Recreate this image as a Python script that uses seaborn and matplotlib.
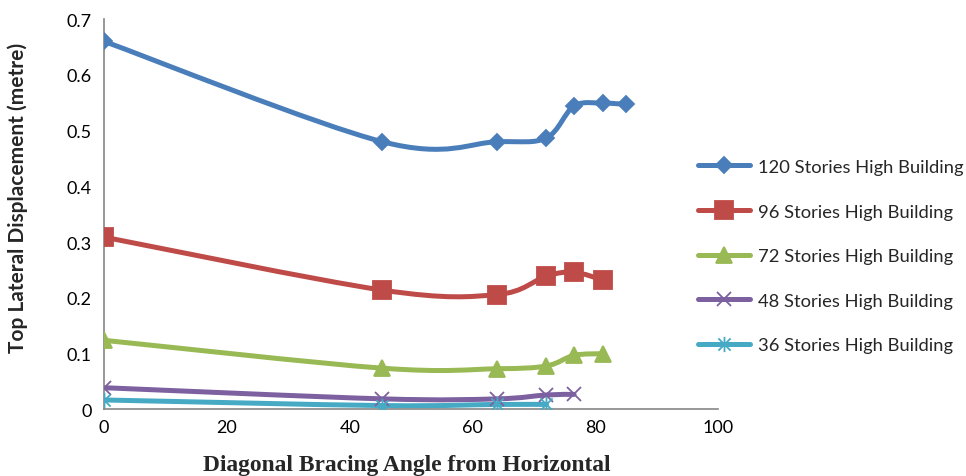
import numpy as np
import matplotlib
matplotlib.use("Agg")
import matplotlib.pyplot as plt
import seaborn as sns
from matplotlib.path import Path
from matplotlib.patches import PathPatch
from matplotlib.lines import Line2D

# === DATA ===
angles_120 = [0, 45.3, 64.0, 72.0, 76.5, 81.2, 85.0]
disp_120 = [0.660, 0.480, 0.480, 0.487, 0.544, 0.549, 0.547]

angles_96 = [0, 45.3, 64.0, 72.0, 76.5, 81.2]
disp_96 = [0.309, 0.214, 0.206, 0.239, 0.246, 0.232]

angles_72 = [0, 45.3, 64.0, 72.0, 76.5, 81.2]
disp_72 = [0.124, 0.074, 0.073, 0.078, 0.097, 0.100]

angles_48 = [0, 45.3, 64.0, 72.0, 76.5]
disp_48 = [0.039, 0.019, 0.019, 0.026, 0.027]

angles_36 = [0, 45.3, 64.0, 72.0]
disp_36 = [0.017, 0.007, 0.009, 0.009]

labels = ["120 Stories High Building", "96 Stories High Building",
          "72 Stories High Building", "48 Stories High Building",
          "36 Stories High Building"]
x_ticks = [0, 20, 40, 60, 80, 100]
y_ticks = [0, 0.1, 0.2, 0.3, 0.4, 0.5, 0.6, 0.7]

# Excel style "star" marker: an X with a vertical stroke through it
star = Path([(-1, -1), (1, 1), (-1, 1), (1, -1), (0, -1.25), (0, 1.25)],
            [Path.MOVETO, Path.LINETO] * 3)

series = [
    (angles_120, disp_120, "#4A7EBB", "D", 8.5),
    (angles_96, disp_96, "#BE4B48", "s", 12.5),
    (angles_72, disp_72, "#98B954", "^", 11),
    (angles_48, disp_48, "#7D60A0", "x", 10.5),
    (angles_36, disp_36, "#46AAC5", star, 11),
]

# === STYLE ===
sns.set_theme(style="white")
plt.rcParams["font.family"] = ["Lato", "DejaVu Sans"]


def smooth_path(xs, ys):
    """Excel-like smoothed line: cubic Bezier segments through the points."""
    pts = np.column_stack([xs, ys]).astype(float)
    n = len(pts)
    verts = [pts[0]]
    codes = [Path.MOVETO]
    for i in range(n - 1):
        p_prev = pts[max(i - 1, 0)]
        p0, p1 = pts[i], pts[i + 1]
        p_next = pts[min(i + 2, n - 1)]
        c1 = p0 + (p1 - p_prev) / 6.0
        c2 = p1 - (p_next - p0) / 6.0
        verts += [c1, c2, p1]
        codes += [Path.CURVE4] * 3
    return Path(verts, codes)


fig = plt.figure(figsize=(9.66, 4.77), dpi=100)
ax = fig.add_axes([0.1077, 0.1395, 0.636, 0.8185])

handles = []
for (xs, ys, color, marker, ms), label in zip(series, labels):
    ax.add_patch(PathPatch(smooth_path(xs, ys), fill=False, edgecolor=color,
                           lw=3.6, capstyle="round", joinstyle="round", zorder=2))
    sns.lineplot(x=xs, y=ys, ax=ax, linestyle="", marker=marker, markersize=ms,
                 color=color, markeredgecolor=color, markeredgewidth=1.3,
                 zorder=3, estimator=None, sort=False)
    handles.append(Line2D([], [], color=color, lw=3.6, marker=marker, markersize=ms,
                          markeredgecolor=color, markeredgewidth=1.3,
                          solid_capstyle="round"))

ax.set_xlim(0, 100)
ax.set_ylim(0, 0.7)
ax.set_xticks(x_ticks)
ax.set_yticks(y_ticks)
ax.set_xticklabels([str(t) for t in x_ticks])
ax.set_yticklabels(["0"] + [f"{t:.1f}" for t in y_ticks[1:]])
ax.tick_params(axis="both", length=0, labelsize=13, colors="black")
ax.tick_params(axis="y", pad=9)
ax.tick_params(axis="x", pad=7)

for side in ["top", "right"]:
    ax.spines[side].set_visible(False)
for side in ["left", "bottom"]:
    ax.spines[side].set_color("#868686")
    ax.spines[side].set_linewidth(1.2)
ax.grid(False)

fig.text(0.0186, 0.586, "Top Lateral Displacement (metre)", rotation=90,
         ha="center", va="center", fontsize=15, fontweight="bold")
fig.text(0.4214, 0.025, "Diagonal Bracing Angle from Horizontal", ha="center",
         va="center", fontsize=16.9, fontweight="bold", family="Liberation Serif")

fig.legend(handles, labels, loc="center left", bbox_to_anchor=(0.7226, 0.461),
           frameon=False, fontsize=13.2, handlelength=2.85, handletextpad=0.4,
           labelspacing=1.56, borderpad=0, borderaxespad=0)

fig.savefig("out.png", dpi=100)
